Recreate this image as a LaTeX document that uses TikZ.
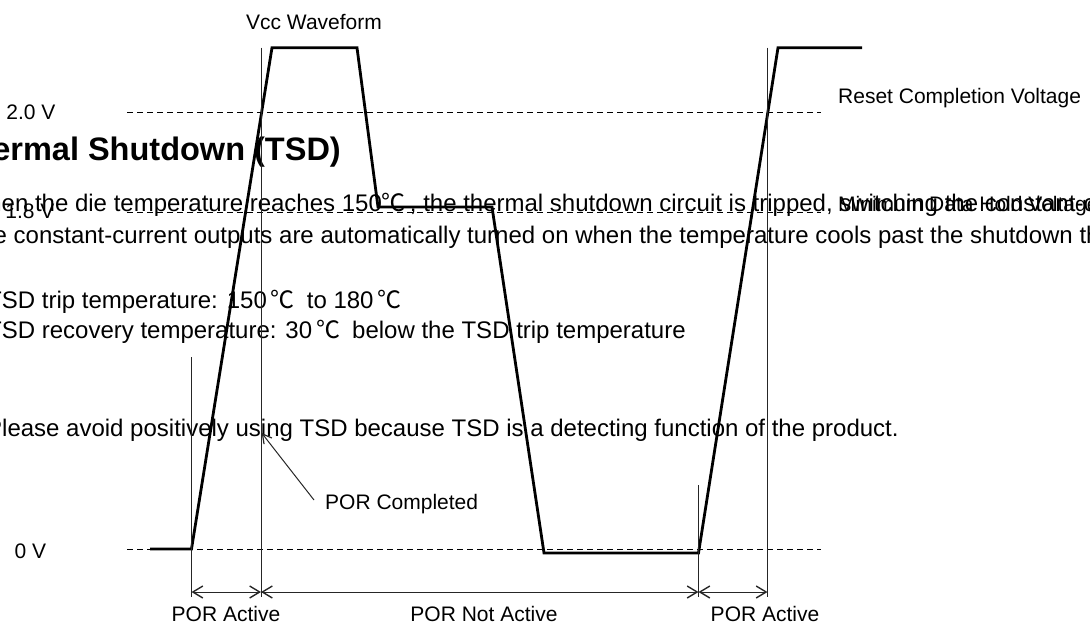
\documentclass[tikz,border=0pt]{standalone}
\usepackage{fontspec}
\setmainfont{Liberation Sans}
\newfontfamily\degfont{Noto Sans CJK SC}
\usetikzlibrary{arrows.meta}

\tikzset{
  lbl/.style={font=\fontsize{21}{25}\selectfont, inner sep=0pt, anchor=base},
  para/.style={font=\fontsize{24}{28}\selectfont, inner sep=0pt, anchor=base west},
  wave/.style={line width=2.8pt},
  guide/.style={line width=1pt, black!85},
  voltlevel/.style={line width=1pt, dash pattern=on 6pt off 4pt},
  barb/.tip={Straight Barb[length=10pt,width=12pt,line width=1.4pt]},
  porspan/.style={guide, barb-barb},
}

\begin{document}
\begin{tikzpicture}[x=1pt,y=-1pt]
\useasboundingbox (0,0) rectangle (1090,625);
\clip (0,0) rectangle (1090,625);

\node[font=\bfseries\fontsize{32.5}{38}\selectfont, inner sep=0pt, anchor=base east] (tsdhead) at (341,160) {Thermal Shutdown (TSD)};
\node[para] (tsdtrip) at (-34.5,211.7) {When the die temperature reaches 150{\degfont ℃}\,, the thermal shutdown circuit is tripped, switching the constant-current outputs off.};
\node[para] (tsdback) at (-34.5,243.5) {The constant-current outputs are automatically turned on when the temperature cools past the shutdown threshold.};
\node[para] (tsdrange) at (-13,308.5) {TSD trip temperature: 150\,{\degfont ℃}\hspace{12pt}to 180\,{\degfont ℃}};
\node[para] (tsdhyst) at (-13,338.5) {TSD recovery temperature: 30\,{\degfont ℃}\hspace{12pt}below the TSD trip temperature};
\node[para] (tsdnote) at (-14,436) {Please avoid positively using TSD because TSD is a detecting function of the product.};

\node[lbl] (vcc) at (314,29.2) {Vcc Waveform};
\node[lbl] (lv20) at (31,119.5) {2.0 V};
\node[lbl] (lv18) at (30,218.5) {1.8 V};
\node[lbl] (lv0) at (30.5,558) {0 V};
\node[lbl, anchor=base west] (resetv) at (838,103.5) {Reset Completion Voltage};
\node[lbl, anchor=base west] (holdv) at (838,211.7) {Minimum Data Hold Voltage};
\node[lbl, anchor=base west] (porok) at (325,509) {POR Completed};
\node[lbl] (poract1) at (226,621.5) {POR Active};
\node[lbl] (pornot) at (484,621.5) {POR Not Active};
\node[lbl] (poract2) at (765,621.5) {POR Active};

\draw[voltlevel] (127,112) -- (821,112);
\draw[voltlevel] (127,212) -- (821,212);
\draw[voltlevel] (127,549) -- (821,549);

\coordinate (w0) at (150,549);
\coordinate (w1) at (191.5,549);
\coordinate (w2) at (272,47.7);
\coordinate (w3) at (357,47.7);
\coordinate (w4) at (378,207);
\coordinate (w5) at (492,207);
\coordinate (w6) at (544,553);
\coordinate (w7) at (698.5,553);
\coordinate (w8) at (778,47.7);
\coordinate (w9) at (862,47.7);
\draw[wave] (w0) -- (w1) -- (w2) -- (w3) -- (w4) -- (w5) -- (w6) -- (w7) -- (w8) -- (w9);

\coordinate (t1) at (191.5,357);
\coordinate (t2) at (261,47.7);
\coordinate (t3) at (698.5,485);
\coordinate (t4) at (767.5,47.7);
\coordinate (b1) at (191.5,597);
\coordinate (b2) at (261,597);
\coordinate (b3) at (698.5,597);
\coordinate (b4) at (767.5,597);
\draw[guide] (t1) -- (b1);
\draw[guide] (t2) -- (b2);
\draw[guide] (t3) -- (b3);
\draw[guide] (t4) -- (b4);

\coordinate (a1) at (191.5,592);
\coordinate (a2) at (261,592);
\coordinate (a3) at (698.5,592);
\coordinate (a4) at (767.5,592);
\draw[porspan] (a1) -- (a2);
\draw[porspan] (a2) -- (a3);
\draw[porspan] (a3) -- (a4);

\coordinate (portail) at (314,500);
\coordinate (porpt) at (261.7,433);
\draw[guide, -{Straight Barb[length=9pt,width=10pt,line width=1.2pt]}] (portail) -- (porpt);
\end{tikzpicture}
\end{document}
